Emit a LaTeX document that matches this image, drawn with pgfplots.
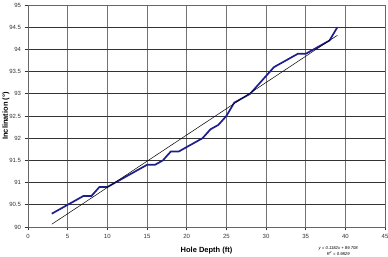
\documentclass[border=0pt]{standalone}
\usepackage{pgfplots}
\pgfplotsset{compat=1.18}
\usepackage{fontspec}
\setmainfont{Liberation Sans}
\begin{document}
\begin{tikzpicture}
\begin{axis}[
  scale only axis, width=357pt, height=222pt,
  xmin=0, xmax=45, ymin=90, ymax=95,
  xtick={0,5,...,45}, ytick={90,90.5,...,95},
  yticklabels={90,90.5,91,91.5,92,92.5,93,93.5,94,94.5,95},
  grid=major,
  x grid style={black!55, line width=0.7pt},
  y grid style={black!80, line width=0.6pt},
  axis line style={black!60, line width=0.7pt},
  tick align=outside, major tick length=3.5pt,
  tick style={black!80, line width=0.6pt},
  xtick pos=bottom, ytick pos=left,
  ticklabel style={font=\fontsize{6}{7}\selectfont, text=black!80},
  /pgf/number format/assume math mode=true,
  xlabel={\textbf{Hole Depth (ft)}}, ylabel={\textbf{Inclination (°)}},
  label style={font=\fontsize{7.5}{9}\selectfont},
  xlabel style={at={(axis description cs:0.5,0)}, anchor=north, yshift=-17pt},
  ylabel style={at={(axis description cs:-0.062,0.5)}, anchor=center},
  clip=false,
]
\addplot[color={rgb,255:red,30;green,30;blue,140}, line width=1.7pt] coordinates {
(3,90.3)(4,90.4)(5,90.5)(6,90.6)(7,90.7)(8,90.7)(9,90.9)(10,90.9)(11,91.0)(12,91.1)
(13,91.2)(14,91.3)(15,91.4)(16,91.4)(17,91.5)(18,91.7)(19,91.7)(20,91.8)(21,91.9)
(22,92.0)(23,92.2)(24,92.3)(25,92.5)(26,92.8)(27,92.9)(28,93.0)(29,93.2)(30,93.4)
(31,93.6)(32,93.7)(33,93.8)(34,93.9)(35,93.9)(36,94.0)(37,94.1)(38,94.2)(39,94.5)};
\addplot[black, line width=0.5pt] coordinates {(3,90.0626)(39,94.3178)};
\node[font=\fontsize{4.2}{6}\selectfont\itshape, align=center, anchor=north] at (axis cs:39.1,89.64) {y = 0.1182x + 89.708\\R\textsuperscript{2} = 0.9829};
\end{axis}
\pgfresetboundingbox
\path[use as bounding box] ([xshift=-28pt,yshift=-30pt]current axis.south west) rectangle ([xshift=3pt,yshift=5pt]current axis.north east);
\end{tikzpicture}
\end{document}
